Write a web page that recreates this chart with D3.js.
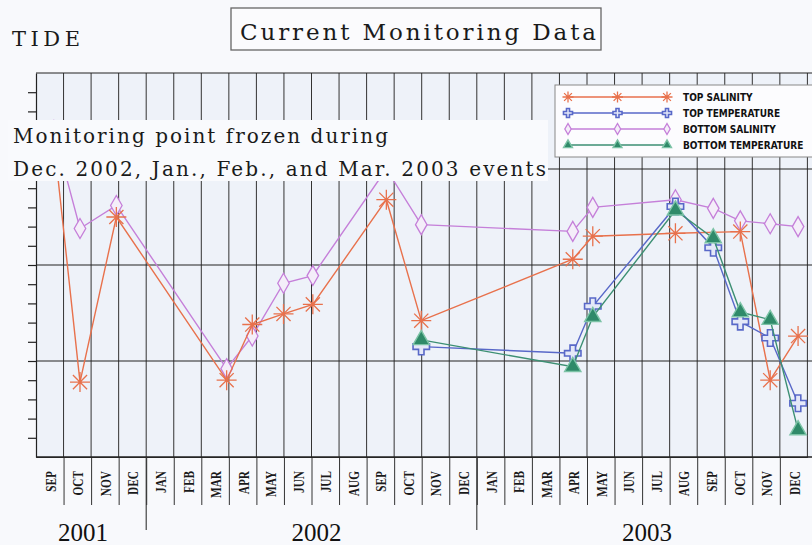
<!DOCTYPE html>
<html>
<head>
<meta charset="utf-8">
<script src="https://cdn.jsdelivr.net/npm/d3@7"></script>
<style>
  body { margin: 0; background: #f8f9fc; }
  svg { display: block; }
</style>
</head>
<body>
<div id="chart"></div>
<script>
// ------ Data (y in gridline units, 0 = bottom) ------ //
const sampleDates = [
  "2001-09-20", "2001-10-19", "2001-11-28", "2002-03-29", "2002-04-26",
  "2002-05-31", "2002-07-02", "2002-09-22", "2002-10-31", "2003-04-15",
  "2003-05-07", "2003-08-07", "2003-09-18", "2003-10-18", "2003-11-20",
  "2003-12-21"
];
const topSalinity       = [16.5, 3.9, 12.5, 4.0, 6.9, 7.45, 7.95, 13.4, 7.1, 10.3, 11.5, 11.65, null, 11.74, 4.0, 6.3];
const topTemperature    = [null, null, null, null, null, null, null, null, 5.75, 5.4, 7.85, 13.05, 10.9, 7.05, 6.2, 2.8];
const bottomSalinity    = [17.0, 11.9, 13.1, 4.6, 6.3, 9.05, 9.45, 15.0, 12.1, 11.75, 13.0, 13.4, 12.95, 12.3, 12.15, 12.0];
const bottomTemperature = [null, null, null, null, null, null, null, null, 6.1, 4.7, 7.3, 12.85, 11.4, 7.55, 7.15, 1.4];

const monthLabels = ["SEP", "OCT", "NOV", "DEC",
  "JAN", "FEB", "MAR", "APR", "MAY", "JUN", "JUL", "AUG", "SEP", "OCT", "NOV", "DEC",
  "JAN", "FEB", "MAR", "APR", "MAY", "JUN", "JUL", "AUG", "SEP", "OCT", "NOV", "DEC"];
const yearLabels = ["2001", "2002", "2003"];
const yearBounds = [0, 4, 16, 28]; // month index where each year starts / ends

const seriesNames = ["TOP SALINITY", "TOP TEMPERATURE", "BOTTOM SALINITY", "BOTTOM TEMPERATURE"];

// date string -> fractional month index from Sep 2001
const monthIndex = s => {
  const d = new Date(s + "T00:00:00");
  const y = d.getFullYear(), m = d.getMonth();
  const days = new Date(y, m + 1, 0).getDate();
  return (y - 2001) * 12 + m - 8 + (d.getDate() - 0.5) / days;
};

const drawChart = () => {
  const width = 812;
  const height = 545;
  const plot = {left: 36, right: 812, top: 73, bottom: 457};

  const svg = d3.select("#chart")
    .append("svg")
      .attr("width", width)
      .attr("height", height)
      .attr("viewBox", [0, 0, width, height]);

  // ------ Scales ------- //
  const xScale = d3.scaleLinear()
    .domain([0, 28])
    .range([plot.left, plot.left + 28 * 27.55]);
  const yScale = d3.scaleLinear()
    .domain([0, 20])
    .range([plot.bottom, plot.top]);

  // ------ Plot background and grid ------- //
  svg.append("rect")
    .attr("x", plot.left)
    .attr("y", plot.top)
    .attr("width", plot.right - plot.left)
    .attr("height", plot.bottom - plot.top)
    .attr("fill", "#eef2f9");

  // vertical month lines
  svg.append("g")
    .selectAll("line")
    .data(d3.range(1, 29))
    .join("line")
      .attr("x1", d => xScale(d))
      .attr("x2", d => xScale(d))
      .attr("y1", plot.top)
      .attr("y2", plot.bottom)
      .attr("stroke", "#333")
      .attr("stroke-width", 1);

  // horizontal major lines
  svg.append("g")
    .selectAll("line")
    .data([5, 10, 15, 20])
    .join("line")
      .attr("x1", plot.left)
      .attr("x2", plot.right)
      .attr("y1", d => yScale(d))
      .attr("y2", d => yScale(d))
      .attr("stroke", "#222")
      .attr("stroke-width", 1.2);

  // left axis with small ticks, no labels
  const leftAxis = d3.axisLeft(yScale)
    .tickValues(d3.range(1, 20))
    .tickSize(8)
    .tickSizeOuter(0)
    .tickFormat("");
  svg.append("g")
    .attr("transform", `translate(${plot.left}, 0)`)
    .call(leftAxis)
    .call(g => g.selectAll("path, line").attr("stroke", "#222").attr("stroke-width", 1.2));

  // bottom axis: separators between month labels
  const bottomAxis = d3.axisBottom(xScale)
    .tickValues(d3.range(1, 28))
    .tickSize(48)
    .tickSizeOuter(0)
    .tickFormat("");
  svg.append("g")
    .attr("transform", `translate(0, ${plot.bottom})`)
    .call(bottomAxis)
    .call(g => g.selectAll("path, line").attr("stroke", "#333").attr("stroke-width", 1));
  svg.append("line")
    .attr("x1", plot.left).attr("x2", plot.right)
    .attr("y1", plot.bottom).attr("y2", plot.bottom)
    .attr("stroke", "#222").attr("stroke-width", 1.5);

  // year separators
  svg.append("g")
    .selectAll("line")
    .data(yearBounds.slice(1, -1))
    .join("line")
      .attr("x1", d => xScale(d))
      .attr("x2", d => xScale(d))
      .attr("y1", plot.bottom)
      .attr("y2", 530)
      .attr("stroke", "#333")
      .attr("stroke-width", 1.1);

  // month labels
  svg.append("g")
    .selectAll("text")
    .data(monthLabels)
    .join("text")
      .text(d => d)
      .attr("transform", (d, i) => `translate(${xScale(i + 0.5) + 1}, 471) rotate(-90) scale(0.78, 1)`)
      .attr("text-anchor", "end")
      .attr("dominant-baseline", "central")
      .attr("font-family", "'Liberation Serif', serif")
      .attr("font-weight", "bold")
      .attr("font-size", 14.5)
      .attr("fill", "#1a1a1a");

  // year labels
  svg.append("g")
    .selectAll("text")
    .data(yearLabels)
    .join("text")
      .text(d => d)
      .attr("x", (d, i) => xScale((yearBounds[i] + yearBounds[i + 1]) / 2) + (i === 0 ? -8 : 5))
      .attr("y", 541)
      .attr("text-anchor", "middle")
      .attr("font-family", "'Liberation Serif', serif")
      .attr("font-size", 25)
      .attr("fill", "#111");

  // ------ Series ------- //
  const series = [
    {name: seriesNames[0], values: topSalinity, color: "#e8714c", mark: "asterisk"},
    {name: seriesNames[1], values: topTemperature, color: "#5868c8", mark: "cross"},
    {name: seriesNames[2], values: bottomSalinity, color: "#c57fd9", mark: "diamond"},
    {name: seriesNames[3], values: bottomTemperature, color: "#3c8f73", mark: "triangle"}
  ];
  const drawOrder = [2, 0, 1, 3];

  const asteriskPath = r => {
    let p = "";
    [0, 45, 90, 135].forEach(a => {
      const dx = r * Math.cos(a * Math.PI / 180), dy = r * Math.sin(a * Math.PI / 180);
      p += `M${-dx},${-dy}L${dx},${dy}`;
    });
    return p;
  };
  const markPath = (mark, k) => {
    if (mark === "asterisk") return asteriskPath(10 * k);
    if (mark === "cross") return d3.symbol(d3.symbolCross, 150 * k * k)();
    if (mark === "diamond") return d3.symbol(d3.symbolDiamond, 115 * k * k)();
    return d3.symbol(d3.symbolTriangle, 115 * k * k)();
  };
  const styleMark = (sel, s) => {
    if (s.mark === "asterisk") {
      sel.attr("fill", "none").attr("stroke", s.color).attr("stroke-width", 1.3);
    } else if (s.mark === "cross") {
      sel.attr("fill", "#e4e8f8").attr("stroke", s.color).attr("stroke-width", 1.6);
    } else if (s.mark === "diamond") {
      sel.attr("fill", "#f4eef9").attr("stroke", s.color).attr("stroke-width", 1.3);
    } else {
      sel.attr("fill", "#2f8a69").attr("stroke", "#7cc3a6").attr("stroke-width", 1.4);
    }
  };

  const lineGenerator = d3.line()
    .x(d => xScale(monthIndex(d.date)))
    .y(d => yScale(d.value));

  drawOrder.forEach(idx => {
    const s = series[idx];
    const points = sampleDates
      .map((date, i) => ({date, value: s.values[i]}))
      .filter(d => d.value !== null);

    svg.append("path")
      .attr("d", lineGenerator(points))
      .attr("fill", "none")
      .attr("stroke", s.color)
      .attr("stroke-width", 1.4);

    svg.append("g")
      .selectAll("path")
      .data(points)
      .join("path")
        .attr("d", markPath(s.mark, 1))
        .attr("transform", d => `translate(${xScale(monthIndex(d.date))}, ${yScale(d.value)})`)
        .call(sel => styleMark(sel, s));
  });

  // ------ Annotation (covers the lines) ------- //
  svg.append("rect")
    .attr("x", 8).attr("y", 120)
    .attr("width", 540).attr("height", 61)
    .attr("fill", "#f9fafd");
  svg.append("text")
    .text("Monitoring point frozen during")
    .attr("x", 13).attr("y", 143)
    .attr("textLength", 375)
    .attr("lengthAdjust", "spacing")
    .attr("font-family", "'DejaVu Serif', serif")
    .attr("font-size", 20)
    .attr("fill", "#1a1a1a");
  svg.append("text")
    .text("Dec. 2002, Jan., Feb., and Mar. 2003 events")
    .attr("x", 13).attr("y", 176)
    .attr("textLength", 533)
    .attr("lengthAdjust", "spacing")
    .attr("font-family", "'DejaVu Serif', serif")
    .attr("font-size", 20)
    .attr("fill", "#1a1a1a");

  // ------ Titles ------- //
  svg.append("text")
    .text("TIDE")
    .attr("x", 12).attr("y", 46)
    .attr("textLength", 68)
    .attr("lengthAdjust", "spacing")
    .attr("font-family", "'DejaVu Serif', serif")
    .attr("font-size", 21)
    .attr("fill", "#1a1a1a");
  svg.append("rect")
    .attr("x", 231).attr("y", 8)
    .attr("width", 370).attr("height", 42)
    .attr("fill", "#fbfbfd")
    .attr("stroke", "#666")
    .attr("stroke-width", 1.3);
  svg.append("text")
    .text("Current Monitoring Data")
    .attr("x", 240).attr("y", 40)
    .attr("textLength", 356)
    .attr("lengthAdjust", "spacing")
    .attr("font-family", "'DejaVu Serif', serif")
    .attr("font-size", 23)
    .attr("fill", "#1a1a1a");

  // ------ Legend ------- //
  const legend = svg.append("g");
  legend.append("rect")
    .attr("x", 555).attr("y", 85)
    .attr("width", 262).attr("height", 72)
    .attr("fill", "#fcfcfe")
    .attr("stroke", "#888")
    .attr("stroke-width", 1);
  const legendY = d3.scalePoint()
    .domain(seriesNames)
    .range([97, 145]);
  series.forEach(s => {
    const y = legendY(s.name);
    legend.append("line")
      .attr("x1", 568).attr("x2", 667)
      .attr("y1", y).attr("y2", y)
      .attr("stroke", s.color)
      .attr("stroke-width", 1.3);
    legend.append("g")
      .selectAll("path")
      .data([568, 617.5, 667])
      .join("path")
        .attr("d", markPath(s.mark, 0.55))
        .attr("transform", d => `translate(${d}, ${y})`)
        .call(sel => styleMark(sel, s));
    legend.append("text")
      .text(s.name)
      .attr("x", 683)
      .attr("y", y + 3.5)
      .attr("font-family", "'DejaVu Sans Condensed', 'DejaVu Sans', sans-serif")
      .attr("font-weight", "bold")
      .attr("font-size", 10)
      .attr("fill", "#111");
  });
};

drawChart();
</script>
</body>
</html>
